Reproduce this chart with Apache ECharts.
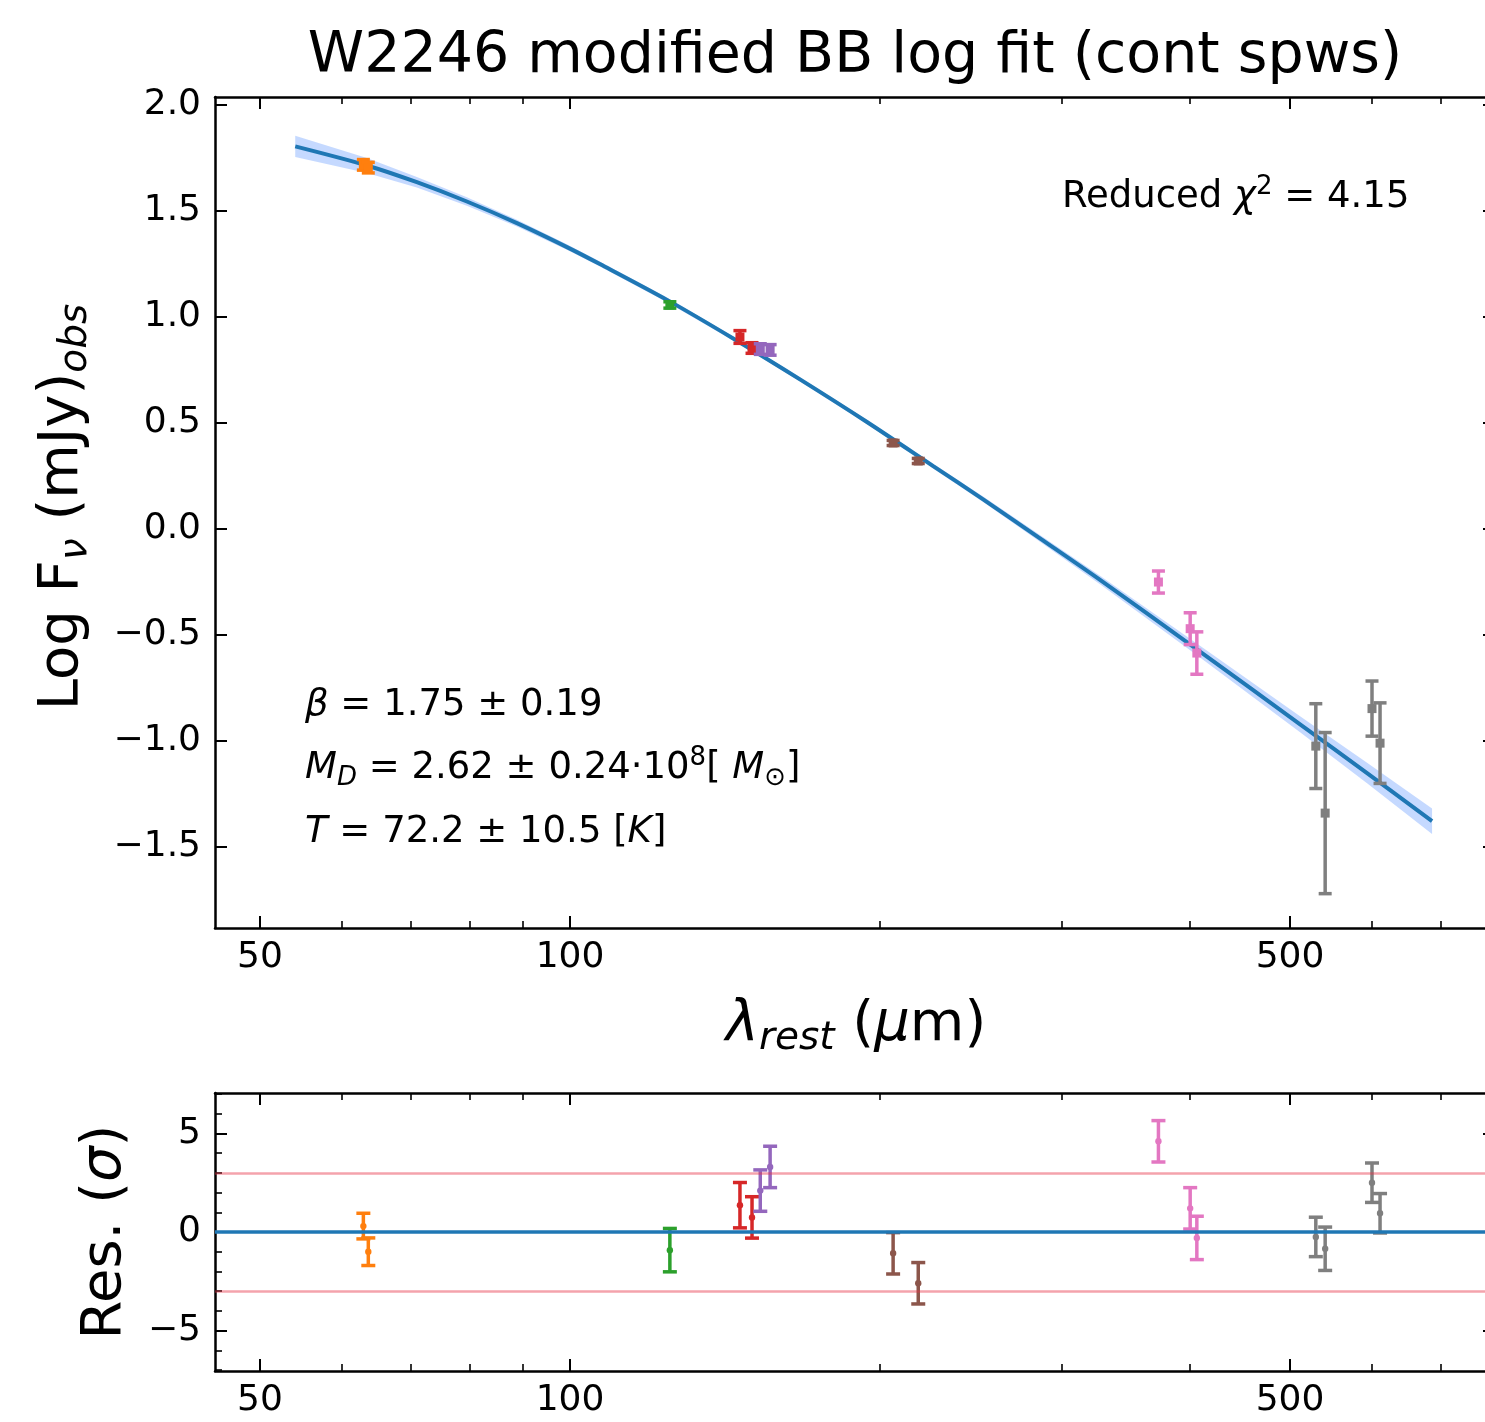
<!DOCTYPE html>
<html>
<head>
<meta charset="utf-8">
<script src="https://cdn.jsdelivr.net/npm/echarts@6.0.0/dist/echarts.min.js"></script>
<style>
html,body{margin:0;padding:0;background:#ffffff;}
#chart{width:1485px;height:1422px;}
</style>
</head>
<body>
<div id="chart"></div>
<script>
// ---------------- data ----------------
const titleText = 'W2246 modified BB log fit (cont spws)';

const xMajorTicks = [50, 100, 500];
const xMinorTicks = [60, 70, 80, 90, 200, 300, 400, 600, 700];
const fluxTicks = [-1.5, -1.0, -0.5, 0.0, 0.5, 1.0, 1.5, 2.0];
const resMajorTicks = [-5, 0, 5];
const resMinorTicks = [-7, -6, -4, -3, -2, -1, 1, 2, 3, 4, 6, 7];
const sigmaLimit = 3;

// fitted modified black body (rest wavelength in micron, log flux)
const fitLambda = [54.1, 63.5, 71.0, 79.4, 88.8, 99.3, 106.9, 124.2, 144.0, 167.2, 194.2, 225.2, 251.8, 285.9, 327.0, 408.9, 511.4, 594.0, 686.9];
const fitLogF   = [1.805, 1.715, 1.636, 1.545, 1.443, 1.330, 1.250, 1.081, 0.899, 0.706, 0.505, 0.297, 0.140, -0.044, -0.240, -0.578, -0.921, -1.151, -1.378];
const fitHalfWidth = [0.05, 0.035, 0.025, 0.02, 0.016, 0.013, 0.012, 0.011, 0.010, 0.010, 0.010, 0.011, 0.013, 0.016, 0.020, 0.028, 0.038, 0.048, 0.060];

// continuum spectral windows
const pointBand   = ['orange', 'orange', 'green', 'red', 'red', 'purple', 'purple', 'brown', 'brown', 'pink', 'pink', 'pink', 'gray', 'gray', 'gray', 'gray'];
const pointLambda = [63.0, 63.7, 125.0, 146.2, 150.2, 153.0, 156.4, 205.9, 217.8, 372.6, 400.0, 406.0, 529.7, 540.9, 600.6, 611.5];
const pointLogF   = [1.718, 1.705, 1.057, 0.906, 0.854, 0.849, 0.845, 0.406, 0.321, -0.250, -0.470, -0.585, -1.024, -1.340, -0.847, -1.010];
const pointLogErr = [0.025, 0.025, 0.015, 0.030, 0.025, 0.025, 0.025, 0.012, 0.012, 0.052, 0.075, 0.100, 0.200, 0.380, 0.130, 0.190];
const pointRes    = [0.30, -1.00, -0.92, 1.36, 0.74, 2.10, 3.30, -1.08, -2.60, 4.60, 1.20, -0.30, -0.25, -0.85, 2.50, 0.95];
const pointResErr = [0.65, 0.70, 1.10, 1.15, 1.05, 1.05, 1.05, 1.05, 1.05, 1.05, 1.05, 1.10, 1.00, 1.10, 1.00, 1.00];

const bandColors = {orange:'#ff7f0e', green:'#2ca02c', red:'#d62728', purple:'#9467bd', brown:'#8c564b', pink:'#e377c2', gray:'#7f7f7f'};

// ---------------- layout / style ----------------
const lg = Math.log10;
const X_MIN = 1.6553, X_MAX = 2.898;
const FLUX_MIN = -1.882, FLUX_MAX = 2.038;
const RES_MIN = -7.05, RES_MAX = 7.05;
const FF = '"DejaVu Sans"';
const fnt = (s, it) => (it ? 'italic ' : '') + s + 'px ' + FF;
const minus = s => s.replace('-', '\u2212');
const LINE = {color:'#000', width:2.5};
const TICK_MAJ = {color:'#000', width:2};
const TICK_MIN = {color:'#000', width:1.6};

function xAxesFor(gridIndex) {
  const major = xMajorTicks.map(lg), minor = xMinorTicks.map(lg);
  const base = {type:'value', gridIndex, min:X_MIN, max:X_MAX, splitLine:{show:false}, axisPointer:{show:false}};
  return [
    Object.assign({}, base, {position:'bottom',
      axisLine:{show:true, onZero:false, lineStyle:LINE},
      axisTick:{show:true, inside:true, length:12, lineStyle:TICK_MAJ, customValues:major},
      axisLabel:{show:true, customValues:major, formatter:v => String(Math.round(Math.pow(10, v))),
        fontSize:36, fontFamily:'DejaVu Sans', color:'#000', margin:12}}),
    Object.assign({}, base, {position:'bottom',
      axisLine:{show:false, onZero:false},
      axisTick:{show:true, inside:true, length:7, lineStyle:TICK_MIN, customValues:minor},
      axisLabel:{show:false}}),
    Object.assign({}, base, {position:'top',
      axisLine:{show:true, onZero:false, lineStyle:LINE},
      axisTick:{show:true, inside:true, length:12, lineStyle:TICK_MAJ, customValues:major},
      axisLabel:{show:false}}),
    Object.assign({}, base, {position:'top',
      axisLine:{show:false, onZero:false},
      axisTick:{show:true, inside:true, length:7, lineStyle:TICK_MIN, customValues:minor},
      axisLabel:{show:false}})
  ];
}

const yAxes = [
  {type:'value', gridIndex:0, position:'left', min:FLUX_MIN, max:FLUX_MAX, splitLine:{show:false},
   axisLine:{show:true, onZero:false, lineStyle:LINE},
   axisTick:{show:true, inside:true, length:12, lineStyle:TICK_MAJ, customValues:fluxTicks},
   axisLabel:{show:true, customValues:fluxTicks, formatter:v => minus(v.toFixed(1)),
     fontSize:36, fontFamily:'DejaVu Sans', color:'#000', margin:14}},
  {type:'value', gridIndex:0, position:'right', min:FLUX_MIN, max:FLUX_MAX, splitLine:{show:false},
   axisLine:{show:true, onZero:false, lineStyle:LINE},
   axisTick:{show:true, inside:true, length:12, lineStyle:TICK_MAJ, customValues:fluxTicks},
   axisLabel:{show:false}},
  {type:'value', gridIndex:1, position:'left', min:RES_MIN, max:RES_MAX, splitLine:{show:false},
   axisLine:{show:true, onZero:false, lineStyle:LINE},
   axisTick:{show:true, inside:true, length:12, lineStyle:TICK_MAJ, customValues:resMajorTicks},
   axisLabel:{show:true, customValues:resMajorTicks, formatter:v => minus(String(Math.round(v))),
     fontSize:36, fontFamily:'DejaVu Sans', color:'#000', margin:14}},
  {type:'value', gridIndex:1, position:'left', min:RES_MIN, max:RES_MAX, splitLine:{show:false},
   axisLine:{show:false, onZero:false},
   axisTick:{show:true, inside:true, length:7, lineStyle:TICK_MIN, customValues:resMinorTicks},
   axisLabel:{show:false}},
  {type:'value', gridIndex:1, position:'right', min:RES_MIN, max:RES_MAX, splitLine:{show:false},
   axisLine:{show:true, onZero:false, lineStyle:LINE},
   axisTick:{show:true, inside:true, length:12, lineStyle:TICK_MAJ, customValues:resMajorTicks},
   axisLabel:{show:false}},
  {type:'value', gridIndex:1, position:'right', min:RES_MIN, max:RES_MAX, splitLine:{show:false},
   axisLine:{show:false, onZero:false},
   axisTick:{show:true, inside:true, length:7, lineStyle:TICK_MIN, customValues:resMinorTicks},
   axisLabel:{show:false}}
];

// band polygon data
const bandData = fitLambda.map((l, i) => [lg(l), fitLogF[i] - fitHalfWidth[i], fitLogF[i] + fitHalfWidth[i]]);

function bandRender(params, api) {
  if (params.dataIndex !== 0) return null;
  const up = [], lo = [];
  for (let i = 0; i < bandData.length; i++) {
    up.push(api.coord([bandData[i][0], bandData[i][2]]));
    lo.push(api.coord([bandData[i][0], bandData[i][1]]));
  }
  return {type:'polygon', shape:{points: up.concat(lo.reverse())},
          style:{fill:'rgba(110,160,255,0.40)', stroke:'none'}};
}

function errRender(cfg) {
  return function (params, api) {
    const x = api.value(0), y = api.value(1), e = api.value(2);
    const c = bandColors[pointBand[params.dataIndex]];
    const p = api.coord([x, y]), t = api.coord([x, y + e]), b = api.coord([x, y - e]);
    const w = cfg.cap, st = {stroke:c, lineWidth:cfg.lw};
    const marker = cfg.square
      ? {type:'rect', shape:{x:p[0] - cfg.m, y:p[1] - cfg.m, width:2 * cfg.m, height:2 * cfg.m}, style:{fill:c}}
      : {type:'circle', shape:{cx:p[0], cy:p[1], r:cfg.m}, style:{fill:c}};
    return {type:'group', children:[
      {type:'line', shape:{x1:p[0], y1:t[1], x2:p[0], y2:b[1]}, style:st},
      {type:'line', shape:{x1:p[0] - w, y1:t[1], x2:p[0] + w, y2:t[1]}, style:st},
      {type:'line', shape:{x1:p[0] - w, y1:b[1], x2:p[0] + w, y2:b[1]}, style:st},
      marker
    ]};
  };
}

const mainPoints = pointLambda.map((l, i) => [lg(l), pointLogF[i], pointLogErr[i]]);
const resPoints  = pointLambda.map((l, i) => [lg(l), pointRes[i], pointResErr[i]]);
const fitLine    = fitLambda.map((l, i) => [lg(l), fitLogF[i]]);

// ---------------- text ----------------
function tok(size, italic, lh, va) {
  const o = {font: fnt(size, italic), fill:'#000', lineHeight: lh};
  if (va) o.verticalAlign = va;
  return o;
}
function textEl(x, y, text, rich, size, align, rot) {
  return {type:'text', x:x, y:y, rotation: rot || 0, silent:true, z:100,
    style:{text:text, x:0, y:0, font: fnt(size, false), fill:'#000',
      align:align, verticalAlign:'middle', textAlign:align, textVerticalAlign:'middle', rich:rich}};
}
const bigRich = {n:tok(56, false, 66), i:tok(56, true, 66), s:tok(39, true, 26, 'bottom')};
const annRich = {n:tok(37, false, 46), i:tok(37, true, 46), s:tok(26, true, 16, 'bottom'),
                 o:tok(26, false, 16, 'bottom'), p:tok(26, false, 20, 'top')};

const graphics = [
  textEl(855, 57, titleText, null, 57, 'center'),
  textEl(62, 507, '{n|Log F}{s|\u03bd}{n| (mJy)}{s|obs}', bigRich, 56, 'center', Math.PI / 2),
  textEl(856, 1025, '{i|\u03bb}{s|rest}{n| (}{i|\u03bc}{n|m)}', bigRich, 56, 'center'),
  textEl(105, 1232, '{n|Res. (}{i|\u03c3}{n|)}', bigRich, 56, 'center', Math.PI / 2),
  textEl(1062, 197, '{n|Reduced }{i|\u03c7}{p|2}{n| = 4.15}', annRich, 37, 'left'),
  textEl(305, 705, '{i|\u03b2}{n| = 1.75 \u00b1 0.19}', annRich, 37, 'left'),
  textEl(305, 768, '{i|M}{s|D}{n| = 2.62 \u00b1 0.24\u00b710}{p|8}{n|[ }{i|M}{o|\u2299}{n|]}', annRich, 37, 'left'),
  textEl(305, 832, '{i|T}{n| = 72.2 \u00b1 10.5 [}{i|K}{n|]}', annRich, 37, 'left')
];

const option = {
  backgroundColor:'#ffffff',
  animation:false,
  grid:[
    {left:215, top:97, width:1280, height:831, containLabel:false, outerBoundsMode:'none'},
    {left:215, top:1093, width:1280, height:278, containLabel:false, outerBoundsMode:'none'}
  ],
  xAxis: xAxesFor(0).concat(xAxesFor(1)),
  yAxis: yAxes,
  series:[
    {type:'custom', name:'band', xAxisIndex:0, yAxisIndex:0, data:bandData, encode:{x:0, y:[1, 2]},
     renderItem:bandRender, silent:true, z:1},
    {type:'line', name:'fit', xAxisIndex:0, yAxisIndex:0, data:fitLine, showSymbol:false, smooth:0.3,
     lineStyle:{color:'#1f77b4', width:4}, silent:true, z:2},
    {type:'custom', name:'data', xAxisIndex:0, yAxisIndex:0, data:mainPoints, encode:{x:0, y:1},
     renderItem:errRender({cap:6.5, lw:3.5, m:4.5, square:true}), silent:true, z:3},
    {type:'line', name:'ref', xAxisIndex:4, yAxisIndex:2, data:[], silent:true, z:1,
     markLine:{silent:true, symbol:'none', label:{show:false}, animation:false,
       data:[
         {yAxis:0, lineStyle:{color:'#1f77b4', width:3.5, type:'solid'}},
         {yAxis:sigmaLimit, lineStyle:{color:'rgba(230,50,70,0.45)', width:2.5, type:'solid'}},
         {yAxis:-sigmaLimit, lineStyle:{color:'rgba(230,50,70,0.45)', width:2.5, type:'solid'}}
       ]}},
    {type:'custom', name:'residuals', xAxisIndex:4, yAxisIndex:2, data:resPoints, encode:{x:0, y:1},
     renderItem:errRender({cap:7, lw:3.5, m:3.2, square:false}), silent:true, z:3}
  ],
  graphic: graphics
};

const chart = echarts.init(document.getElementById('chart'), null, {renderer:'canvas'});
chart.setOption(option);
</script>
</body>
</html>
